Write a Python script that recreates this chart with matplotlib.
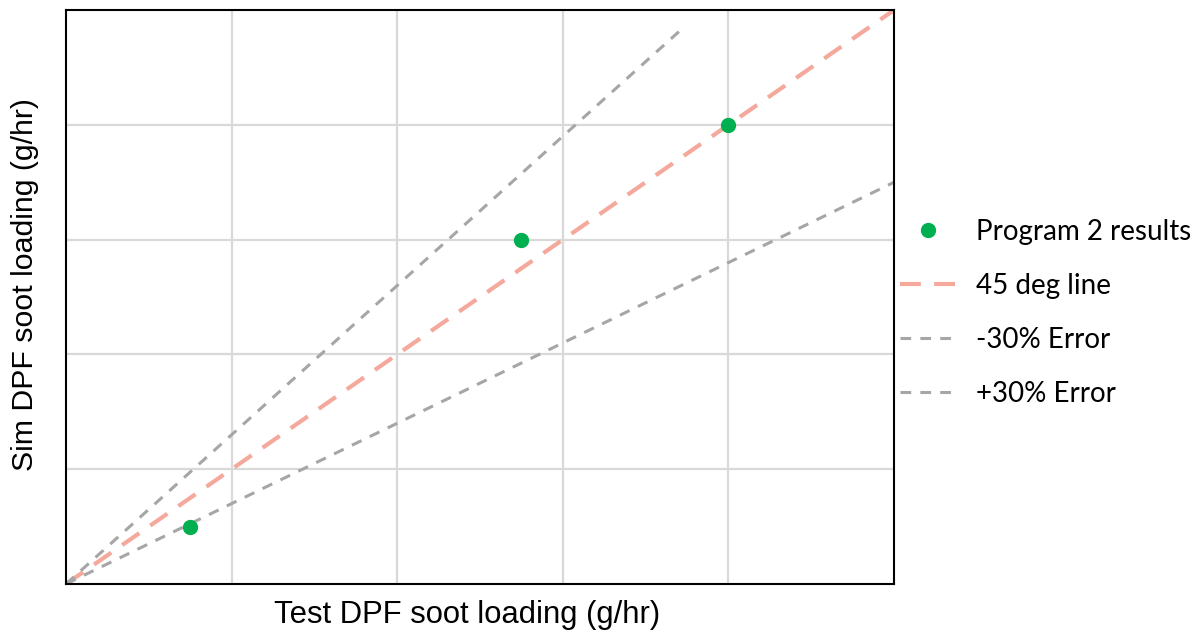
import matplotlib.pyplot as plt

# data (no tick labels on the chart)
test_soot = [0.75, 2.75, 4.0]
sim_soot = [0.5, 3.0, 4.0]

line45_x = [0, 5]
line45_y = [0, 5]
minus30_x = [0, 5]
minus30_y = [0, 3.5]
plus30_x = [0, 3.73]
plus30_y = [0, 4.85]

fig = plt.figure(figsize=(11.96, 6.32), dpi=100)
ax = fig.add_axes([0.0552, 0.076, 0.6923, 0.908])

ax.plot(test_soot, sim_soot, 'o', color='#00B050', markersize=10, label='Program 2 results', zorder=5)
ax.plot(line45_x, line45_y, color='#F4A99C', linewidth=3, dashes=(5, 3.2), label='45 deg line')
ax.plot(minus30_x, minus30_y, color='#A6A6A6', linewidth=2.2, dashes=(3.5, 3), label='-30% Error')
ax.plot(plus30_x, plus30_y, color='#A6A6A6', linewidth=2.2, dashes=(3.5, 3), label='+30% Error')

ax.set_xlim(0, 5)
ax.set_ylim(0, 5)
ax.set_xticks([1, 2, 3, 4])
ax.set_yticks([1, 2, 3, 4])
ax.tick_params(length=0, labelbottom=False, labelleft=False)
ax.grid(True, color='#D9D9D9', linewidth=1.6)
ax.set_axisbelow(True)
for s in ax.spines.values():
    s.set_color('black')
    s.set_linewidth(1.5)

ax.set_xlabel('Test DPF soot loading (g/hr)', fontsize=22.3, family='Liberation Sans')
ax.set_ylabel('Sim DPF soot loading (g/hr)', fontsize=21.8, family='Liberation Sans')
ax.xaxis.set_label_coords(0.484, -0.028)
ax.yaxis.set_label_coords(-0.033, 0.522)

fig.legend(loc='center left', bbox_to_anchor=(0.7525, 0.505), frameon=False,
           prop={'family': 'Lato', 'size': 20}, labelspacing=1.0,
           handlelength=2.0, handletextpad=0.75, borderpad=0, borderaxespad=0)

fig.savefig('out.png', dpi=100)
